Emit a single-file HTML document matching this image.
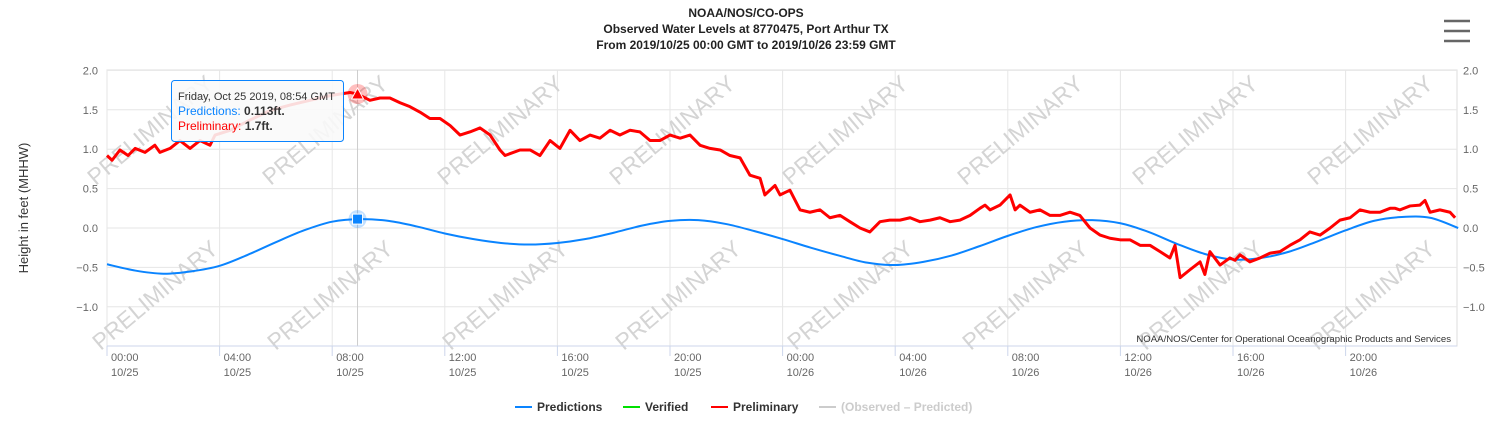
<!DOCTYPE html>
<html><head><meta charset="utf-8"><style>
html,body{margin:0;padding:0;background:#fff;}
svg{display:block;font-family:"Liberation Sans",sans-serif;}
</style></head><body>
<svg id="chart" width="1492" height="437" viewBox="0 0 1492 437">
<g font-size="12" font-weight="bold" fill="#222" text-anchor="middle">
<text x="746" y="17">NOAA/NOS/CO-OPS</text>
<text x="746" y="33">Observed Water Levels at 8770475, Port Arthur TX</text>
<text x="746" y="49">From 2019/10/25 00:00 GMT to 2019/10/26 23:59 GMT</text>
</g>
<g stroke="#666" stroke-width="2.5">
<line x1="1444" y1="21" x2="1470" y2="21"/><line x1="1444" y1="31" x2="1470" y2="31"/><line x1="1444" y1="41" x2="1470" y2="41"/>
</g>
<g id="grid"></g>
<g id="watermarks"></g>
<g id="series"></g>
<g id="axes"></g>
<text x="1451" y="342" font-size="9.6" fill="#333" text-anchor="end">NOAA/NOS/Center for Operational Oceanographic Products and Services</text>
<text transform="translate(28,208) rotate(-90)" font-size="13" fill="#333" text-anchor="middle">Height in feet (MHHW)</text>
<g font-size="12" font-weight="bold">
<g><line x1="515" y1="407" x2="532" y2="407" stroke="#0a84ff" stroke-width="2"/><text x="537" y="411" fill="#333">Predictions</text></g>
<g><line x1="623" y1="407" x2="640" y2="407" stroke="#00e000" stroke-width="2"/><text x="645" y="411" fill="#333">Verified</text></g>
<g><line x1="711" y1="407" x2="728" y2="407" stroke="#ff0000" stroke-width="2"/><text x="733" y="411" fill="#333">Preliminary</text></g>
<g><line x1="819" y1="407" x2="836" y2="407" stroke="#ccc" stroke-width="2"/><text x="841" y="411" fill="#ccc">(Observed – Predicted)</text></g>
</g>
<g id="tooltip"></g>
</svg>
<script>
const yTicks=[2.0,1.5,1.0,0.5,0.0,-0.5,-1.0];
const xTickHours=[0,4,8,12,16,20,24,28,32,36,40,44];
const xTickTimes=["00:00","04:00","08:00","12:00","16:00","20:00","00:00","04:00","08:00","12:00","16:00","20:00"];
const xTickDates=["10/25","10/25","10/25","10/25","10/25","10/25","10/26","10/26","10/26","10/26","10/26","10/26"];
const predHours=[0,1,2,3,4,5,6,7,8,9,10,11,12,13,14,15,16,17,18,19,20,21,22,23,24,25,26,27,28,29,30,31,32,33,34,35,36,37,38,39,40,41,42,43,44,45,46,47,48];
const predValues=[-0.46,-0.54,-0.58,-0.55,-0.48,-0.34,-0.18,-0.03,0.08,0.113,0.09,0.02,-0.07,-0.14,-0.19,-0.21,-0.19,-0.14,-0.06,0.03,0.09,0.1,0.05,-0.04,-0.14,-0.25,-0.35,-0.44,-0.47,-0.43,-0.35,-0.23,-0.1,0.01,0.08,0.1,0.06,-0.05,-0.2,-0.33,-0.4,-0.38,-0.3,-0.17,-0.03,0.09,0.14,0.13,0.0];
const prelimHours=[0,0.18,0.46,0.75,1.0,1.35,1.7,1.88,2.24,2.59,2.95,3.3,3.66,3.84,4.37,5.08,5.79,6.5,7.21,7.92,8.63,8.9,9.34,9.7,10.05,10.41,10.76,11.12,11.47,11.83,12.19,12.54,12.9,13.25,13.61,13.96,14.14,14.67,15.03,15.38,15.74,16.09,16.45,16.8,17.16,17.51,17.87,18.22,18.58,18.93,19.29,19.64,20.0,20.36,20.71,21.07,21.42,21.78,22.13,22.49,22.84,23.2,23.37,23.73,23.91,24.26,24.62,24.97,25.33,25.68,26.04,26.39,26.75,27.1,27.46,27.81,28.17,28.53,28.88,29.24,29.59,29.95,30.3,30.66,31.01,31.19,31.37,31.72,32.08,32.26,32.43,32.79,33.14,33.5,33.85,34.21,34.56,34.92,35.28,35.63,35.99,36.34,36.7,37.05,37.41,37.76,37.94,38.12,38.47,38.83,39.0,39.18,39.54,39.89,40.07,40.25,40.6,40.96,41.31,41.67,42.02,42.38,42.73,43.09,43.45,43.8,44.16,44.51,44.87,45.22,45.58,45.76,45.93,46.29,46.64,46.82,47.0,47.35,47.71,47.89];
const prelimValues=[0.92,0.86,0.99,0.92,1.01,0.96,1.05,0.96,1.01,1.11,1.01,1.11,1.05,1.18,1.24,1.37,1.49,1.56,1.62,1.68,1.72,1.70,1.62,1.65,1.65,1.59,1.54,1.47,1.39,1.39,1.30,1.18,1.22,1.27,1.18,0.99,0.92,0.99,0.99,0.92,1.11,1.01,1.24,1.11,1.18,1.14,1.24,1.18,1.24,1.22,1.11,1.11,1.18,1.14,1.18,1.05,1.01,0.99,0.92,0.89,0.67,0.63,0.42,0.54,0.42,0.48,0.23,0.2,0.23,0.13,0.16,0.08,0,-0.05,0.08,0.1,0.1,0.13,0.08,0.1,0.13,0.08,0.1,0.16,0.25,0.29,0.23,0.29,0.42,0.23,0.29,0.2,0.23,0.16,0.16,0.2,0.16,0,-0.09,-0.13,-0.15,-0.15,-0.22,-0.22,-0.3,-0.38,-0.22,-0.63,-0.53,-0.43,-0.59,-0.3,-0.47,-0.38,-0.41,-0.34,-0.43,-0.38,-0.32,-0.3,-0.22,-0.15,-0.05,-0.09,0,0.1,0.13,0.23,0.2,0.2,0.25,0.25,0.23,0.28,0.29,0.35,0.2,0.23,0.2,0.13];
const hoverHour=8.9, hoverPred=0.113, hoverPrelim=1.7;

const NS="http://www.w3.org/2000/svg";
const L=107,R=1457,T=70,B=346;
const xs=h=>L+h*28.15;
const ys=v=>228-v*78.8;
function mk(tag,attrs,parent){const e=document.createElementNS(NS,tag);for(const k in attrs)e.setAttribute(k,attrs[k]);parent.appendChild(e);return e;}
const grid=document.getElementById('grid'),axes=document.getElementById('axes'),series=document.getElementById('series'),wm=document.getElementById('watermarks'),tt=document.getElementById('tooltip');
mk('rect',{x:L,y:T,width:R-L,height:B-T,fill:'none',stroke:'#ddd'},grid);
yTicks.forEach(v=>{
  const l=mk('line',{x1:L,x2:R,y1:ys(v),y2:ys(v),stroke:'#e6e6e6'},grid);
  
  
  const s=(v<0?'\u2212':'')+Math.abs(v).toFixed(1);
  const a=mk('text',{x:98,y:ys(v)+4,'font-size':11,fill:'#666','text-anchor':'end'},axes);a.textContent=s;
  
  
  const b=mk('text',{x:1463,y:ys(v)+4,'font-size':11,fill:'#666'},axes);b.textContent=s;
  
  
});
mk('line',{x1:L,x2:R,y1:B,y2:B,stroke:'#ccd6eb'},axes);
xTickHours.forEach((h,i)=>{
  const x=xs(h);
  const g=mk('line',{x1:x,x2:x,y1:T,y2:B,stroke:'#e6e6e6'},grid);
  
  
  mk('line',{x1:x,x2:x,y1:B,y2:B+10,stroke:'#ccd6eb'},axes);
  const t=mk('text',{x:x+4,y:361,'font-size':11,fill:'#666'},axes);t.textContent=xTickTimes[i];
  
  
  const d=mk('text',{x:x+4,y:376,'font-size':11,fill:'#666'},axes);d.textContent=xTickDates[i];
  
  
});
[[150,130],[325,130],[500,130],[672,130],[845,130],[1020,130],[1195,130],[1370,130],[155,295],[330,295],[505,295],[678,295],[850,295],[1025,295],[1200,295],[1372,295]].forEach(p=>{
  const t=mk('text',{x:p[0],y:p[1]+8,'font-size':23,fill:'#d4d4d4','text-anchor':'middle',transform:`rotate(-40 ${p[0]} ${p[1]})`},wm);
  t.textContent='PRELIMINARY';
  
  
});
function smooth(hs,vs){let d=`M${xs(hs[0])},${ys(vs[0])}`;for(let i=0;i<hs.length-1;i++){const p0=i?i-1:i,p3=i+2<hs.length?i+2:i+1;
  const x1=xs(hs[i])+(xs(hs[i+1])-xs(hs[p0]))/6,y1=ys(vs[i])+(ys(vs[i+1])-ys(vs[p0]))/6;
  const x2=xs(hs[i+1])-(xs(hs[p3])-xs(hs[i]))/6,y2=ys(vs[i+1])-(ys(vs[p3])-ys(vs[i]))/6;
  d+=` C${x1},${y1} ${x2},${y2} ${xs(hs[i+1])},${ys(vs[i+1])}`;}return d;}
const pl=mk('path',{d:smooth(predHours,predValues),fill:'none',stroke:'#0a84ff','stroke-width':2},series);


const rl=mk('path',{d:'M'+prelimHours.map((h,i)=>xs(h)+','+ys(prelimValues[i])).join(' L'),fill:'none',stroke:'#ff0000','stroke-width':3,'stroke-linejoin':'round'},series);


const hx=xs(hoverHour);
mk('line',{x1:hx,x2:hx,y1:T,y2:B,stroke:'#ccc'},series);
mk('circle',{cx:hx,cy:ys(hoverPrelim),r:10,fill:'rgba(255,0,0,0.25)'},series);
const tri=mk('path',{d:`M${hx},${ys(hoverPrelim)-6} L${hx+6},${ys(hoverPrelim)+5} L${hx-6},${ys(hoverPrelim)+5}Z`,fill:'#ff0000',stroke:'#fff'},series);


mk('circle',{cx:hx,cy:ys(hoverPred),r:9,fill:'rgba(10,132,255,0.25)'},series);
const sq=mk('rect',{x:hx-5,y:ys(hoverPred)-5,width:10,height:10,fill:'#0a84ff',stroke:'#fff'},series);


const box=mk('rect',{x:171.5,y:80.5,width:172,height:61,rx:3,fill:'rgba(249,249,249,0.88)',stroke:'#0a84ff'},tt);


const t1=mk('text',{x:178,y:100,'font-size':11,fill:'#333'},tt);t1.textContent='Friday, Oct 25 2019, 08:54 GMT';
const t2=mk('text',{x:178,y:115,'font-size':12,fill:'#0a84ff'},tt);t2.innerHTML='Predictions: <tspan fill="#333" font-weight="bold">'+hoverPred+'ft.</tspan>';
const t3=mk('text',{x:178,y:130,'font-size':12,fill:'#ff0000'},tt);t3.innerHTML='Preliminary: <tspan fill="#333" font-weight="bold">'+hoverPrelim+'ft.</tspan>';
</script>
</body></html>
